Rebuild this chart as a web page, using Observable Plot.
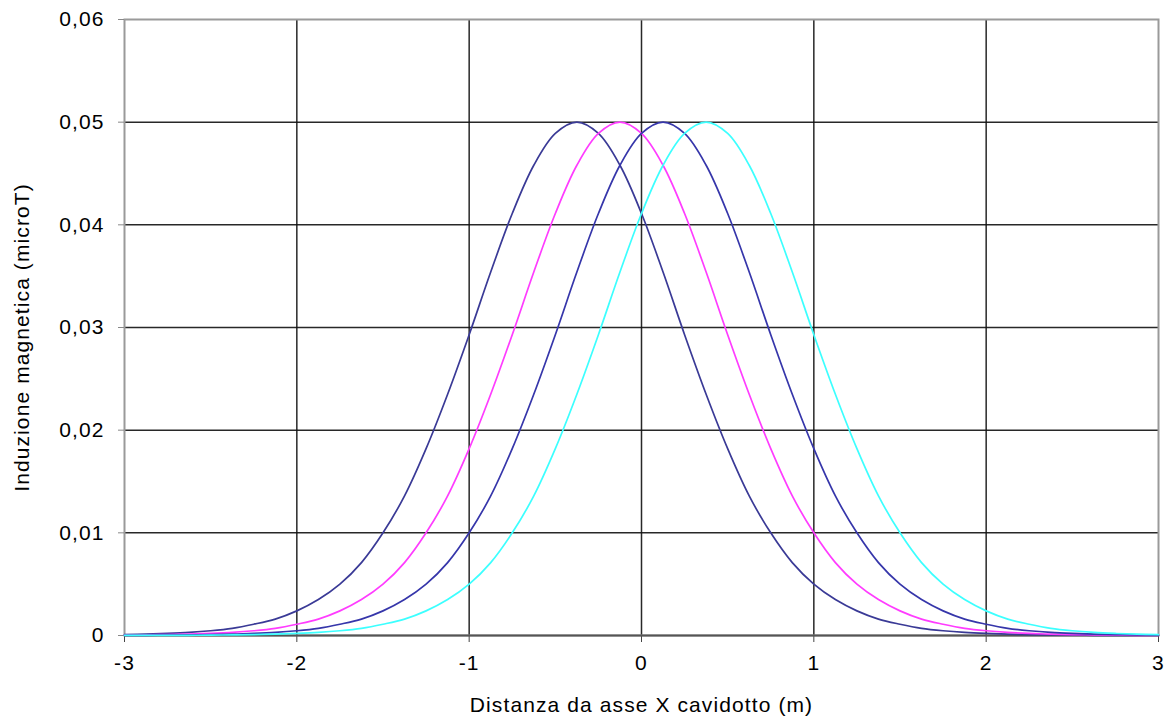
<!DOCTYPE html>
<html><head><meta charset="utf-8">
<script src="https://cdn.jsdelivr.net/npm/d3@7"></script>
<script src="https://cdn.jsdelivr.net/npm/@observablehq/plot@0.6"></script>
<style>
body{margin:0;background:#fff;}
svg text{letter-spacing:1.1px}
</style>
</head><body><div id="chart"></div>
<script>
const xValues = [-3,-2.875,-2.75,-2.625,-2.5,-2.375,-2.25,-2.125,-2,-1.875,-1.75,-1.625,-1.5,-1.375,-1.25,-1.125,-1,-0.875,-0.75,-0.625,-0.5,-0.375,-0.25,-0.125,0,0.125,0.25,0.375,0.5,0.625,0.75,0.875,1,1.125,1.25,1.375,1.5,1.625,1.75,1.875,2,2.125,2.25,2.375,2.5,2.625,2.75,2.875,3];
const series1 = [0.00009,0.00013,0.0002,0.0003,0.00046,0.0007,0.0011,0.0016,0.0024,0.0035,0.005,0.0071,0.01,0.0136,0.0182,0.0235,0.0293,0.0354,0.0411,0.0458,0.0489,0.05,0.0489,0.0458,0.0411,0.0354,0.0293,0.0235,0.0182,0.0136,0.01,0.0071,0.005,0.0035,0.0024,0.0016,0.0011,0.0007,0.00046,0.0003,0.0002,0.00013,0.00009,0.00006,0.00004,0.00002,0.00002,0.00001,0.00001];
const series2 = [0.00004,0.00006,0.00009,0.00013,0.0002,0.0003,0.00046,0.0007,0.0011,0.0016,0.0024,0.0035,0.005,0.0071,0.01,0.0136,0.0182,0.0235,0.0293,0.0354,0.0411,0.0458,0.0489,0.05,0.0489,0.0458,0.0411,0.0354,0.0293,0.0235,0.0182,0.0136,0.01,0.0071,0.005,0.0035,0.0024,0.0016,0.0011,0.0007,0.00046,0.0003,0.0002,0.00013,0.00009,0.00006,0.00004,0.00002,0.00002];
const series3 = [0.00002,0.00002,0.00004,0.00006,0.00009,0.00013,0.0002,0.0003,0.00046,0.0007,0.0011,0.0016,0.0024,0.0035,0.005,0.0071,0.01,0.0136,0.0182,0.0235,0.0293,0.0354,0.0411,0.0458,0.0489,0.05,0.0489,0.0458,0.0411,0.0354,0.0293,0.0235,0.0182,0.0136,0.01,0.0071,0.005,0.0035,0.0024,0.0016,0.0011,0.0007,0.00046,0.0003,0.0002,0.00013,0.00009,0.00006,0.00004];
const series4 = [0.00001,0.00001,0.00002,0.00002,0.00004,0.00006,0.00009,0.00013,0.0002,0.0003,0.00046,0.0007,0.0011,0.0016,0.0024,0.0035,0.005,0.0071,0.01,0.0136,0.0182,0.0235,0.0293,0.0354,0.0411,0.0458,0.0489,0.05,0.0489,0.0458,0.0411,0.0354,0.0293,0.0235,0.0182,0.0136,0.01,0.0071,0.005,0.0035,0.0024,0.0016,0.0011,0.0007,0.00046,0.0003,0.0002,0.00013,0.00009];
const seriesNames = ["Serie 1","Serie 2","Serie 3","Serie 4"];
const seriesColors = ["#3a3a96","#ff3cff","#3636aa","#3cffff"];
const xTicks = [-3,-2,-1,0,1,2,3];
const xTickLabels = ["-3","-2","-1","0","1","2","3"];
const yTicks = [0,0.01,0.02,0.03,0.04,0.05,0.06];
const yTickLabels = ["0","0,01","0,02","0,03","0,04","0,05","0,06"];
const xTitle = "Distanza da asse X cavidotto (m)";
const yTitle = "Induzione magnetica (microT)";

const allSeries = [series1, series2, series3, series4];
const data = [];
allSeries.forEach((s, j) => s.forEach((v, i) => data.push({x: xValues[i], y: v, s: seriesNames[j]})));

const font = "'Liberation Sans', Arial, sans-serif";
const chart = Plot.plot({
  width: 1167, height: 718,
  marginLeft: 124, marginRight: 9, marginTop: 19, marginBottom: 83,
  style: {fontFamily: font, fontSize: "21px", background: "#fff", color: "#000"},
  x: {domain: [-3, 3]},
  y: {domain: [0, 0.06]},
  color: {domain: seriesNames, range: seriesColors},
  marks: [
    Plot.gridX(xTicks.slice(1, -1), {stroke: "#111", strokeOpacity: 0.9, strokeWidth: 1.5}),
    Plot.gridY(yTicks.slice(1, -1), {stroke: "#111", strokeOpacity: 0.9, strokeWidth: 1.5}),
    Plot.frame({stroke: "#9a9a9a", strokeWidth: 2}),
    Plot.axisX(xTicks, {tickSize: 7, tickPadding: 13, stroke: "#444", fontSize: 21, tickFormat: d => xTickLabels[xTicks.indexOf(d)], label: null}),
    Plot.axisY(yTicks, {tickSize: 6, tickPadding: 14, stroke: "#888", fontSize: 21, tickFormat: d => yTickLabels[yTicks.indexOf(d)], label: null}),
    Plot.ruleY([0], {stroke: "#555", strokeWidth: 2}),
    Plot.line(data, {x: "x", y: "y", z: "s", stroke: "s", strokeWidth: 1.7, curve: "catmull-rom"}),
    Plot.text([xTitle], {frameAnchor: "bottom", dy: 70, text: d => d, lineAnchor: "middle", textAnchor: "middle", fontSize: 21}),
    Plot.text([yTitle], {frameAnchor: "left", dx: -102, dy: 10, rotate: -90, text: d => d, lineAnchor: "middle", textAnchor: "middle", fontSize: 21})
  ]
});
document.getElementById("chart").append(chart);
</script>
</body></html>
